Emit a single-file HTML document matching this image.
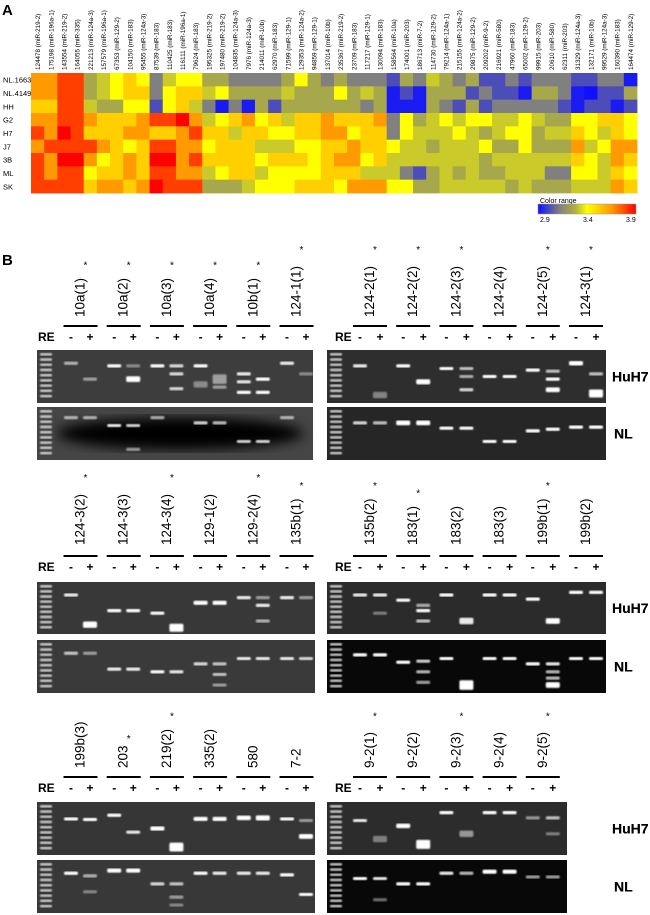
<!DOCTYPE html>
<html><head><meta charset="utf-8">
<style>
html,body{margin:0;padding:0;background:#fff;width:650px;height:915px;overflow:hidden}
svg text{font-family:"Liberation Sans",Arial,sans-serif}
</style></head>
<body>
<svg id="fig" width="650" height="915" viewBox="0 0 650 915" xmlns="http://www.w3.org/2000/svg">
<defs>
<linearGradient id="cr" x1="0" x2="1" y1="0" y2="0">
<stop offset="0" stop-color="#1010ff"/><stop offset="0.22" stop-color="#808080"/><stop offset="0.38" stop-color="#b0b040"/><stop offset="0.5" stop-color="#ffff00"/><stop offset="0.75" stop-color="#ff9a00"/><stop offset="1" stop-color="#ff0000"/>
</linearGradient>
<filter id="blur"><feGaussianBlur stdDeviation="0.7"/></filter>
<filter id="blur2"><feGaussianBlur stdDeviation="6"/></filter>
</defs>
<text x="2" y="15" font-size="15" font-weight="bold">A</text>
<text x="2" y="265" font-size="15" font-weight="bold">B</text>
<g id="heat"></g>
<g id="legend">
<text x="540" y="203" font-size="7">Color range</text>
<rect x="538" y="204" width="98" height="10" fill="url(#cr)" stroke="#999" stroke-width="0.5"/>
<text x="540" y="222" font-size="7">2.9</text>
<text x="583" y="222" font-size="7">3.4</text>
<text x="626" y="222" font-size="7">3.9</text>
</g>
<g id="gels"></g>
</svg>
<script>
const colLabels=["124478 (miR-219-2)","175198 (miR-196a-1)","143554 (miR-219-2)","164055 (miR-335)","221213 (miR-124a-3)","157579 (miR-196a-1)","67353 (miR-129-2)","104150 (miR-183)","95455 (miR-124a-3)","87539 (miR-183)","110425 (miR-183)","116111 (miR-196a-1)","79624 (miR-183)","195325 (miR-219-2)","197480 (miR-219-2)","104835 (miR-124a-3)","7976 (miR-124a-3)","214011 (miR-10b)","62970 (miR-183)","71599 (miR-129-1)","129353 (miR-124a-2)","94859 (miR-129-1)","137014 (miR-10b)","235367 (miR-219-2)","23709 (miR-183)","117217 (miR-129-1)","130094 (miR-183)","158564 (miR-10a)","174001 (miR-203)","186713 (miR-7-2)","114730 (miR-129-2)","79214 (miR-124a-1)","215155 (miR-124a-2)","29875 (miR-129-2)","209202 (miR-9-2)","216921 (miR-580)","47960 (miR-183)","65002 (miR-129-2)","99915 (miR-203)","20610 (miR-580)","62311 (miR-203)","31329 (miR-124a-3)","132171 (miR-10b)","99529 (miR-124a-3)","160390 (miR-183)","164474 (miR-129-2)"];
const rowLabels=["NL.1663","NL.4149","HH","G2","H7","J7","3B","ML","SK"];
const rowNL1663=[3.65,3.65,3.8,3.8,3.25,3.32,3.4,3.52,3.4,3.12,3.32,3.4,3.4,3.25,3.25,3.12,3.12,3.12,3.12,3.25,3.4,3.25,3.12,3.25,3.12,3.12,3.12,3.02,3.25,3.12,3.32,3.25,3.12,3.25,3.02,3.02,3.12,3.02,3.12,3.12,3.12,3.02,3.02,3.12,3.12,2.92];
const rowNL4149=[3.65,3.65,3.8,3.8,3.25,3.32,3.4,3.52,3.52,3.12,3.4,3.52,3.52,3.32,3.4,3.25,3.25,3.25,3.25,3.32,3.25,3.25,3.25,3.4,3.25,3.32,3.25,2.92,3.02,2.92,3.25,3.25,3.25,3.02,3.12,3.02,3.02,2.92,3.25,3.25,3.12,2.92,2.9,3.02,3.02,3.25];
const rowHH=[3.52,3.52,3.8,3.8,3.32,3.25,3.25,3.4,3.4,3.02,3.4,3.52,3.32,3.12,2.92,3.12,2.92,3.25,3.02,3.25,3.25,3.25,3.25,3.25,3.25,3.12,3.25,2.92,2.92,2.92,3.25,3.12,3.02,3.25,3.02,3.12,3.12,3.12,3.12,3.12,3.02,2.92,3.02,3.02,2.92,3.02];
const rowG2=[3.65,3.65,3.8,3.8,3.65,3.52,3.52,3.52,3.65,3.8,3.8,3.9,3.65,3.32,3.4,3.52,3.65,3.4,3.52,3.32,3.52,3.52,3.65,3.52,3.52,3.52,3.65,3.12,3.4,3.25,3.32,3.4,3.32,3.4,3.4,3.32,3.32,3.4,3.32,3.25,3.25,3.4,3.4,3.52,3.52,3.4];
const rowH7=[3.8,3.65,3.9,3.8,3.52,3.52,3.52,3.65,3.65,3.52,3.52,3.65,3.8,3.52,3.52,3.32,3.52,3.52,3.4,3.4,3.52,3.52,3.65,3.65,3.4,3.52,3.52,3.12,3.4,3.32,3.32,3.32,3.4,3.32,3.25,3.32,3.4,3.4,3.25,3.32,3.32,3.52,3.4,3.32,3.52,3.4];
const rowJ7=[3.65,3.8,3.8,3.8,3.8,3.65,3.52,3.4,3.52,3.8,3.8,3.65,3.65,3.4,3.52,3.52,3.52,3.32,3.32,3.32,3.4,3.4,3.52,3.52,3.65,3.52,3.52,3.4,3.32,3.32,3.25,3.32,3.32,3.32,3.4,3.25,3.25,3.4,3.25,3.25,3.25,3.65,3.32,3.4,3.65,3.65];
const row3B=[3.8,3.65,3.9,3.9,3.65,3.4,3.52,3.65,3.52,3.9,3.9,3.65,3.8,3.52,3.52,3.52,3.52,3.4,3.52,3.52,3.52,3.4,3.52,3.65,3.65,3.4,3.52,3.32,3.32,3.32,3.32,3.32,3.32,3.32,3.25,3.32,3.32,3.32,3.32,3.32,3.32,3.52,3.4,3.32,3.65,3.52];
const rowML=[3.8,3.65,3.8,3.8,3.4,3.52,3.52,3.65,3.52,3.8,3.8,3.65,3.65,3.32,3.4,3.52,3.52,3.32,3.4,3.4,3.4,3.4,3.52,3.52,3.52,3.32,3.32,3.32,3.12,3.02,3.25,3.32,3.25,3.32,3.25,3.25,3.32,3.32,3.32,3.12,3.12,3.4,3.4,3.32,3.52,3.4];
const rowSK=[3.8,3.8,3.8,3.8,3.52,3.65,3.65,3.52,3.65,3.9,3.8,3.8,3.8,3.25,3.25,3.25,3.32,3.4,3.4,3.4,3.52,3.52,3.52,3.4,3.65,3.65,3.65,3.4,3.4,3.25,3.25,3.32,3.32,3.32,3.32,3.32,3.25,3.32,3.25,3.25,3.25,3.32,3.32,3.32,3.65,3.52];
const heatRows=[rowNL1663,rowNL4149,rowHH,rowG2,rowH7,rowJ7,row3B,rowML,rowSK];

const NS="http://www.w3.org/2000/svg";
function mk(tag,attrs,parent){const e=document.createElementNS(NS,tag);for(const k in attrs)e.setAttribute(k,attrs[k]);if(parent)parent.appendChild(e);return e;}
const stops=[[2.9,[16,16,255]],[3.12,[128,128,128]],[3.28,[176,176,64]],[3.4,[255,255,0]],[3.65,[255,154,0]],[3.9,[255,0,0]]];
function colorOf(v){v=Math.max(2.9,Math.min(3.9,v));for(let i=0;i<stops.length-1;i++){const [a,ca]=stops[i],[b,cb]=stops[i+1];if(v<=b){const t=(v-a)/(b-a);return 'rgb('+ca.map((c,j)=>Math.round(c+(cb[j]-c)*t)).join(',')+')';}}return 'rgb(255,0,0)';}
const hx0=31,hx1=637,hy0=73,hy1=193;
const xScale=i=>hx0+i*(hx1-hx0)/colLabels.length;
const yScale=r=>hy0+r*(hy1-hy0)/rowLabels.length;
const cw=(hx1-hx0)/colLabels.length,ch=(hy1-hy0)/rowLabels.length;
const heat=document.getElementById('heat');
heatRows.forEach((row,r)=>{row.forEach((v,c)=>{
 const el=mk('rect',{x:xScale(c),y:yScale(r),width:cw+0.4,height:ch+0.4,fill:colorOf(v)},heat);
 
 
});});
rowLabels.forEach((l,r)=>{const t=mk('text',{x:3,y:yScale(r)+ch/2+3,'font-size':7.5},heat);t.textContent=l;
 
 });
colLabels.forEach((l,c)=>{const x=xScale(c)+cw/2+2.5;const t=mk('text',{x:0,y:0,'font-size':6.3,'text-anchor':'start',transform:`translate(${x},70) rotate(-90)`},heat);t.textContent=l;
 
 });

const gels=document.getElementById('gels');
const rows=[
 {labTop:317,lineY:326,reY:341,gh:[350,403],gn:[407,460],
  left:{labels:["10a(1)","10a(2)","10a(3)","10a(4)","10b(1)","124-1(1)"],star:[1,1,1,1,1,1],x0:37,x1:313,bgH:"#3d3d3d",bgN:"#454545",
   H:[[[.25,.6]],[[.55,.5]],[[.3,1]],[[.55,1,1.8],[.3,.4]],[[.3,1]],[[.3,.8],[.45,.8],[.73,.8]],[[.3,1],[.65,.4,2]],[[.55,.5,3],[.7,.5]],[[.45,.9],[.6,.9],[.8,1]],[[.55,1],[.8,1]],[[.25,.9]],[[.45,.4]]],
   N:[[[.2,.6]],[[.2,.6]],[[.35,.9]],[[.35,.8],[.8,.5]],[[.2,.6]],[],[[.3,.8]],[[.3,.7]],[[.65,.8]],[[.65,.8]],[[.2,.6]],[]],blob:true},
  right:{labels:["124-2(1)","124-2(2)","124-2(3)","124-2(4)","124-2(5)","124-3(1)"],star:[1,1,1,0,1,1],x0:327,x1:606,bgH:"#2e2e2e",bgN:"#262626",
   H:[[[.3,.9]],[[.85,.4,2]],[[.3,1]],[[.6,1,1.6]],[[.35,1]],[[.35,.7],[.5,.6],[.75,.8]],[[.5,1]],[[.5,1]],[[.38,1]],[[.4,.7],[.55,1],[.75,1,1.5]],[[.25,1,1.4]],[[.45,.7],[.82,1,2.5]]],
   N:[[[.3,.8]],[[.3,.7]],[[.3,1,1.5]],[[.3,1,1.5]],[[.4,1]],[[.4,1]],[[.65,1]],[[.65,1]],[[.45,1]],[[.42,1]],[[.38,1]],[[.38,1]]]}},
 {labTop:545,lineY:556,reY:571,gh:[582,634],gn:[640,693],
  left:{labels:["124-3(2)","124-3(3)","124-3(4)","129-1(2)","129-2(4)","135b(1)"],star:[1,0,1,0,1,1],x0:37,x1:315,bgH:"#383838",bgN:"#3a3a3a",
   H:[[[.25,.9]],[[.82,1,2]],[[.55,1]],[[.55,1]],[[.6,1]],[[.88,1,2.5]],[[.4,1,1.3]],[[.4,1,1.3]],[[.3,.9]],[[.3,.5],[.45,.9],[.75,.6]],[[.3,.9]],[[.3,.5]]],
   N:[[[.25,.7]],[[.25,.5]],[[.55,.9]],[[.55,.9]],[[.6,1]],[[.6,.9]],[[.45,.8]],[[.45,.7],[.65,.7],[.85,.5]],[[.35,.9]],[[.35,.9]],[[.35,.9]],[[.35,.8]]]},
  right:{labels:["135b(2)","183(1)","183(2)","183(3)","199b(1)","199b(2)"],star:[1,1,0,0,1,0],x0:327,x1:606,bgH:"#2b2b2b",bgN:"#080808",
   H:[[[.25,.9]],[[.25,.9],[.6,.4]],[[.35,1]],[[.45,.6],[.55,1],[.75,.7]],[[.25,1]],[[.75,.9,2]],[[.25,1]],[[.25,1]],[[.33,1]],[[.75,1,1.8]],[[.2,1]],[[.2,1]]],
   N:[[[.28,1]],[[.28,1]],[[.42,1]],[[.4,.8],[.6,.7],[.8,.6]],[[.35,1]],[[.85,1,3]],[[.35,1]],[[.35,1]],[[.45,1]],[[.45,.9],[.6,.7],[.72,.7],[.85,1,1.8]],[[.35,1]],[[.35,1]]]}},
 {labTop:768,lineY:777,reY:792,gh:[802,855],gn:[860,913],
  left:{labels:["199b(3)","203","219(2)","335(2)","580","7-2"],star:[0,1,1,0,0,0],x0:37,x1:315,bgH:"#363636",bgN:"#383838",
   H:[[[.32,1]],[[.33,1]],[[.25,1]],[[.57,.9]],[[.5,1,1.3]],[[.85,1,2.8]],[[.32,1,1.3]],[[.32,1,1.3]],[[.3,1,1.4]],[[.3,1,1.6]],[[.32,1]],[[.35,.5],[.65,1,1.5]]],
   N:[[[.25,1]],[[.3,.6],[.6,.4]],[[.2,1,1.3]],[[.2,1,1.3]],[[.45,.8]],[[.45,.7],[.7,.5],[.85,.4]],[[.25,1]],[[.25,.9]],[[.25,.9]],[[.25,.9]],[[.28,1]],[[.65,1]]]},
  right:{labels:["9-2(1)","9-2(2)","9-2(3)","9-2(4)","9-2(5)"],star:[1,0,1,0,1],x0:327,x1:567,bgH:"#2c2c2c",bgN:"#080808",
   H:[[[.35,.9]],[[.7,.4,2]],[[.45,1,1.4]],[[.8,1,2.8]],[[.2,1]],[[.6,.5,2]],[[.2,1]],[[.2,1]],[[.3,.5]],[[.3,.7],[.6,.4]]],
   N:[[[.35,1]],[[.35,.9],[.75,.4]],[[.45,1]],[[.45,1]],[[.25,.9]],[[.25,.7]],[[.22,1,1.3]],[[.22,1,1.3]],[[.32,.6]],[[.32,.6]]]}}
];
function txt(x,y,s,size,attrs,parent){const t=mk('text',Object.assign({x:x,y:y,'font-size':size},attrs||{}),parent);t.textContent=s;return t;}
rows.forEach((R,ri)=>{
 ['left','right'].forEach(side=>{
  const S=R[side];
  const isLeft=side==='left';
  const m0=isLeft?71:360, p0=isLeft?90:380, step=43.2;
  txt(isLeft?38:335,R.reY,'RE',12,{'font-weight':'bold'},gels);
  S.labels.forEach((lab,i)=>{
   const cx=(m0+p0)/2+i*step;
   const l=mk('line',{x1:cx-17,x2:cx+17,y1:R.lineY,y2:R.lineY,stroke:'#000','stroke-width':2},gels);
   
   
   const t=txt(0,0,lab,13.5,{transform:`translate(${cx+4},${R.labTop}) rotate(-90)`},gels);
   
   
   if(S.star[i]){const len=lab.length*7.6;txt(cx+5,R.labTop-len-3,'*',10,{'text-anchor':'middle'},gels);}
   txt(m0+i*step,R.reY,'-',12,{'text-anchor':'middle','font-weight':'bold'},gels);
   txt(p0+i*step,R.reY,'+',12,{'text-anchor':'middle','font-weight':'bold'},gels);
  });
  [['H',R.gh,S.bgH,'huh7-gel'],['N',R.gn,S.bgN,'nl-gel']].forEach(([k,gy,bg,nm])=>{
   const g=mk('g',{},gels);
   
   
   const h=gy[1]-gy[0];
   mk('rect',{x:S.x0,y:gy[0],width:S.x1-S.x0,height:h,fill:bg},g);
   if(k==='N'&&S.blob){mk('ellipse',{cx:(S.x0+S.x1)/2+5,cy:gy[0]+h*0.5,rx:(S.x1-S.x0)/2-15,ry:h*0.3,fill:'#000',filter:'url(#blur2)'},g);}
   for(let j=0;j<9;j++){mk('rect',{x:S.x0+3,y:gy[0]+3+j*(h-6)/9,width:12,height:2.6,rx:1,fill:'#ddd',opacity:0.85,filter:'url(#blur)'},g);}
   S[k].forEach((bands,li)=>{
    const pair=Math.floor(li/2), lx=(li%2===0?m0:p0)+pair*step;
    bands.forEach(b=>{const bh=3.2*(b[2]||1);
     mk('rect',{x:lx-7,y:gy[0]+b[0]*h-bh/2,width:14,height:bh,rx:1.5,fill:'#fff',opacity:b[1],filter:'url(#blur)'},g);});
   });
  });
  txt(612,(R.gh[0]+R.gh[1])/2+5,'HuH7',14,{'font-weight':'bold'},gels);
  txt(614,(R.gn[0]+R.gn[1])/2+5,'NL',14,{'font-weight':'bold'},gels);
 });
});
</script>
</body></html>
